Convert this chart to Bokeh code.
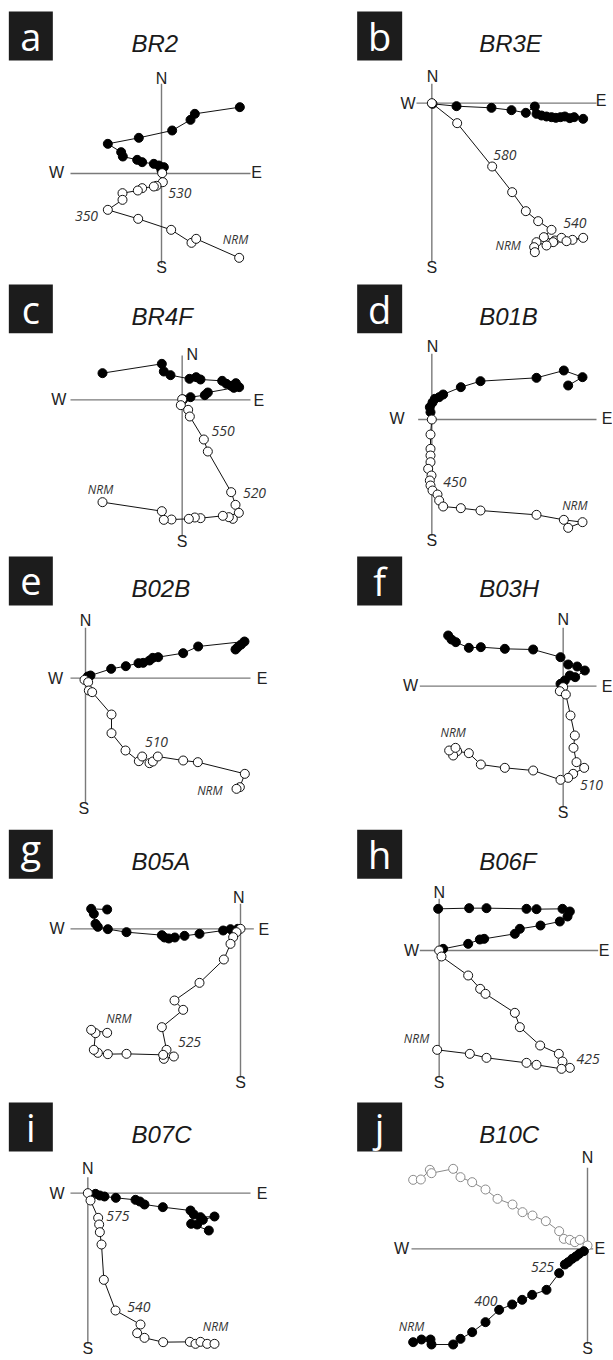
from bokeh.plotting import figure
from bokeh.layouts import column, row
from bokeh.models import Range1d
from bokeh.core.properties import value
from bokeh.embed import file_html
from bokeh.resources import INLINE

# ------------------------------------------------------------------
# DATA  (arbitrary magnetisation units, origin at 0,0; x = East, y = North / Up)
# "fill" = solid symbols, "open" = open symbols
# ------------------------------------------------------------------
panel_letters = ["a", "b", "c", "d", "e", "f", "g", "h", "i", "j"]
sample_names = ["BR2", "BR3E", "BR4F", "B01B", "B02B", "B03H", "B05A", "B06F", "B07C", "B10C"]

a_fill_x = [235, 100, 87, 32, -68, -161, -121, -116, -73, -58, -23, -8, 7, 0]
a_fill_y = [199, 179, 161, 129, 107, 89, 64, 51, 41, 34, 29, 24, 19, 9]
a_open_x = [2, 4, -15, -23, -58, -71, -117, -117, -161, -70, 29, 90, 104, 233]
a_open_y = [1, -26, -37, -39, -44, -51, -59, -79, -109, -136, -169, -208, -196, -253]
a_temps = ["530", "350", "NRM"]

b_fill_x = [2, 74, 179, 239, 282, 309, 314, 329, 344, 359, 372, 386, 399, 414, 427, 454]
b_fill_y = [-2, -9, -14, -21, -29, -10, -32, -37, -40, -42, -44, -42, -40, -45, -42, -47]
b_open_x = [0, 76, 181, 241, 282, 319, 359, 336, 369, 389, 422, 454, 404, 364, 344, 314, 307, 309]
b_open_y = [0, -60, -190, -267, -324, -354, -380, -402, -412, -404, -410, -404, -414, -417, -427, -417, -432, -447]
b_temps = ["580", "540", "NRM"]

c_fill_x = [-239, -61, -55, -35, 22, 42, 55, 120, 133, 147, 161, 171, 155, 77, 68, 25, 3]
c_fill_y = [80, 108, 85, 74, 63, 68, 61, 57, 48, 42, 50, 38, 36, 22, 14, 8, 1]
c_open_x = [0, -4, 18, 23, 65, 77, 147, 160, 170, 152, 140, 122, 55, 38, 20, -32, -55, -61, -239]
c_open_y = [2, -16, -30, -50, -119, -155, -277, -315, -339, -357, -352, -348, -355, -353, -357, -359, -360, -334, -307]
c_temps = ["550", "520", "NRM"]

d_fill_x = [-4, -6, 2, 9, 22, 34, 87, 146, 314, 396, 452, 409]
d_fill_y = [22, 37, 51, 62, 67, 75, 97, 115, 125, 147, 127, 102]
d_open_x = [0, -4, -4, -4, -4, -11, -1, -6, -4, 2, 17, 22, 34, 87, 146, 314, 396, 452, 409]
d_open_y = [0, -45, -88, -108, -128, -148, -168, -183, -198, -213, -225, -243, -261, -266, -273, -286, -301, -308, -325]
d_temps = ["450", "NRM"]

e_fill_x = [7, 15, 77, 121, 159, 173, 192, 202, 218, 293, 338, 477, 467, 457, 450]
e_fill_y = [5, 8, 28, 36, 45, 46, 53, 61, 63, 75, 95, 110, 101, 93, 86]
e_open_x = [-3, 8, 10, 20, 78, 78, 120, 160, 170, 192, 202, 217, 293, 337, 478, 463, 453]
e_open_y = [-5, -12, -37, -42, -109, -165, -217, -249, -235, -255, -250, -235, -247, -252, -287, -327, -332]
e_temps = ["510", "NRM"]

f_fill_x = [-345, -335, -322, -283, -247, -175, -90, -8, 15, 42, 65, 36, 20, 5, -8]
f_fill_y = [152, 140, 132, 115, 117, 112, 110, 87, 65, 59, 47, 27, 32, 17, 7]
f_open_x = [0, -10, 8, 22, 35, 31, 40, 63, 30, 15, -8, -90, -175, -247, -283, -318, -330, -342, -323]
f_open_y = [-3, -15, -25, -88, -148, -185, -228, -245, -263, -275, -281, -253, -245, -235, -201, -195, -208, -193, -185]
f_temps = ["NRM", "510"]

g_fill_x = [-400, -448, -440, -435, -428, -398, -342, -236, -228, -215, -197, -168, -123, -52, -30, -8]
g_fill_y = [58, 60, 45, 15, 6, -1, -10, -19, -26, -29, -26, -21, -15, -5, -1, 0]
g_open_x = [0, -12, -22, -30, -50, -123, -198, -172, -236, -222, -200, -230, -232, -342, -398, -428, -440, -435, -448, -400]
g_open_y = [0, -10, -25, -45, -92, -162, -215, -243, -295, -363, -383, -390, -378, -375, -376, -372, -363, -313, -303, -312]
g_temps = ["NRM", "525"]

h_fill_x = [-3, 90, 142, 262, 292, 370, 392, 385, 362, 304, 242, 227, 135, 122, 87, 12]
h_fill_y = [125, 127, 127, 125, 124, 125, 117, 102, 87, 75, 65, 50, 35, 33, 20, 5]
h_open_x = [0, 7, 87, 123, 139, 227, 242, 303, 359, 370, 392, 367, 292, 262, 142, 92, -6]
h_open_y = [0, -18, -75, -115, -130, -187, -230, -285, -310, -333, -352, -355, -343, -337, -322, -310, -298]
h_temps = ["NRM", "425"]

i_fill_x = [23, 36, 50, 84, 143, 156, 170, 225, 308, 318, 338, 380, 345, 328, 310, 363]
i_fill_y = [-2, -7, -10, -14, -20, -25, -34, -42, -52, -64, -72, -70, -80, -94, -92, -112]
i_open_x = [0, 8, 31, 34, 36, 41, 48, 83, 158, 148, 170, 226, 306, 323, 338, 358, 380]
i_open_y = [0, -22, -74, -94, -117, -154, -260, -352, -394, -420, -434, -447, -446, -452, -446, -452, -452]
i_temps = ["575", "540", "NRM"]

j_open_x = [-523, -500, -473, -468, -403, -381, -346, -306, -270, -225, -195, -165, -125, -85, -71, -53, -38, -23, 0]
j_open_y = [207, 208, 237, 227, 240, 215, 200, 178, 150, 133, 110, 100, 83, 53, 30, 27, 20, 27, 10]
j_fill_x = [-523, -498, -471, -468, -403, -381, -346, -306, -265, -226, -196, -166, -123, -85, -68, -58, -46, -35, -25, -11]
j_fill_y = [-280, -272, -272, -287, -287, -270, -250, -220, -183, -167, -153, -138, -123, -73, -47, -40, -30, -23, -15, -7]
j_temps = ["NRM", "400", "525"]

DATA = {
    "a": (a_fill_x, a_fill_y, a_open_x, a_open_y, a_temps),
    "b": (b_fill_x, b_fill_y, b_open_x, b_open_y, b_temps),
    "c": (c_fill_x, c_fill_y, c_open_x, c_open_y, c_temps),
    "d": (d_fill_x, d_fill_y, d_open_x, d_open_y, d_temps),
    "e": (e_fill_x, e_fill_y, e_open_x, e_open_y, e_temps),
    "f": (f_fill_x, f_fill_y, f_open_x, f_open_y, f_temps),
    "g": (g_fill_x, g_fill_y, g_open_x, g_open_y, g_temps),
    "h": (h_fill_x, h_fill_y, h_open_x, h_open_y, h_temps),
    "i": (i_fill_x, i_fill_y, i_open_x, i_open_y, i_temps),
    "j": (j_fill_x, j_fill_y, j_open_x, j_open_y, j_temps),
}

# ------------------------------------------------------------------
# LAYOUT (positions in a 3x "sketch" grid of each panel cell)
# ------------------------------------------------------------------
COL_LEFT = [0, 306]
COL_W = [306, 306]
ROW_TOP = [0, 280, 552, 822, 1095]
ROW_H = [280, 272, 270, 273, 263]

LAYOUT = {
    "a": dict(col=0, row=0, cell=(0, 0), origin=(483, 519), box=(25, 33, 157, 180),
              v=(250, 790), hz=(210, 750), N=(483, 235), S=(483, 800), W=(168, 517), E=(768, 517),
              tpos=[(538, 577), (258, 645), (705, 718)]),
    "b": dict(col=1, row=0, cell=(306, 0), origin=(376, 308), box=(152, 33, 287, 180),
              v=(250, 785), hz=(330, 870), N=(378, 228), S=(376, 800), W=(305, 308), E=(884, 300),
              tpos=[(595, 462), (805, 668), (605, 735)]),
    "c": dict(col=0, row=1, cell=(0, 270), origin=(545, 388), box=(25, 42, 157, 188),
              v=(255, 795), hz=(210, 750), N=(575, 252), S=(545, 812), W=(175, 388), E=(775, 390),
              tpos=[(668, 482), (762, 668), (300, 657)]),
    "d": dict(col=1, row=1, cell=(306, 270), origin=(376, 447), box=(152, 42, 287, 188),
              v=(250, 795), hz=(335, 870), N=(378, 228), S=(376, 810), W=(272, 445), E=(902, 445),
              tpos=[(445, 635), (805, 705)]),
    "e": dict(col=0, row=2, cell=(0, 540), origin=(255, 413), box=(25, 48, 157, 195),
              v=(262, 790), hz=(210, 750), N=(255, 240), S=(250, 805), W=(165, 413), E=(785, 415),
              tpos=[(468, 605), (628, 750)]),
    "f": dict(col=1, row=2, cell=(306, 540), origin=(770, 437), box=(152, 48, 287, 195),
              v=(262, 800), hz=(340, 870), N=(770, 237), S=(770, 815), W=(312, 435), E=(902, 437),
              tpos=[(440, 575), (855, 733)]),
    "g": dict(col=0, row=3, cell=(0, 810), origin=(720, 355), box=(25, 58, 157, 205),
              v=(280, 800), hz=(210, 760), N=(715, 260), S=(720, 815), W=(170, 355), E=(790, 358),
              tpos=[(355, 625), (567, 693)]),
    "h": dict(col=1, row=3, cell=(306, 810), origin=(398, 420), box=(152, 58, 287, 205),
              v=(265, 800), hz=(340, 875), N=(398, 245), S=(398, 815), W=(315, 420), E=(893, 420),
              tpos=[(330, 685), (845, 745)]),
    "i": dict(col=0, row=4, cell=(0, 1080), origin=(262, 338), box=(25, 66, 157, 213),
              v=(290, 790), hz=(210, 750), N=(262, 265), S=(262, 805), W=(170, 340), E=(785, 340),
              tpos=[(352, 405), (415, 678), (645, 738)]),
    "j": dict(col=1, row=4, cell=(306, 1080), origin=(843, 505), box=(152, 66, 287, 213),
              v=(262, 790), hz=(315, 860), N=(843, 232), S=(843, 805), W=(285, 505), E=(880, 505),
              tpos=[(315, 738), (538, 660), (708, 558)]),
}

TITLE_FONT = value("Liberation Sans")
LETTER_FONT = value("Open Sans")
LABEL_FONT = value("Open Sans")


def make_panel(idx):
    key = panel_letters[idx]
    L = LAYOUT[key]
    fx, fy, ox_, oy_, temps = DATA[key]
    ozx, ozy = L["origin"]

    def zd(zx, zy):
        return zx - ozx, ozy - zy

    cx, cy = L["cell"]
    left, top = COL_LEFT[L["col"]], ROW_TOP[L["row"]]
    W, H = COL_W[L["col"]], ROW_H[L["row"]]
    prx = cx + ozx / 3.0 - left
    pry = cy + ozy / 3.0 - top

    p = figure(width=W, height=H,
               x_range=Range1d(-prx * 3, (W - prx) * 3),
               y_range=Range1d((pry - H) * 3, pry * 3),
               x_axis_type=None, y_axis_type=None,
               output_backend="svg", toolbar_location=None,
               min_border=0, outline_line_color=None)
    p.grid.visible = False

    # letter box
    bx0, by0, bx1, by1 = L["box"]
    l0, t0 = zd(bx0, by0)
    r0, b0 = zd(bx1, by1)
    p.quad(left=[l0], right=[r0], top=[t0], bottom=[b0],
           fill_color="#1c1c1c", line_color=None)
    mid = by0 + (54 if key == "g" else 73)
    lx, ly = zd((bx0 + bx1) / 2.0, mid)
    p.text(x=[lx], y=[ly], text=[key], text_font=LETTER_FONT,
           text_font_size="38px", text_color="white",
           text_align="center", text_baseline="middle")

    # title
    tx, ty = zd(393 if L["col"] == 0 else 518, by0 + 95)
    p.text(x=[tx], y=[ty], text=[sample_names[idx]], text_font=TITLE_FONT,
           text_font_size="24px", text_font_style="italic", text_color="#1a1a1a",
           text_align="left", text_baseline="middle")

    # axes cross
    vy0 = zd(ozx, L["v"][0])[1]
    vy1 = zd(ozx, L["v"][1])[1]
    hx0 = zd(L["hz"][0], ozy)[0]
    hx1 = zd(L["hz"][1], ozy)[0]
    p.segment(x0=[0, hx0], y0=[vy0, 0], x1=[0, hx1], y1=[vy1, 0],
              line_color="#7a7a7a", line_width=1.4)
    for lab in ["N", "S", "W", "E"]:
        qx, qy = zd(*L[lab])
        p.text(x=[qx], y=[qy], text=[lab], text_font=TITLE_FONT,
               text_font_size="16px", text_color="#222222",
               text_align="center", text_baseline="middle")

    open_col = "#8a8a8a" if key == "j" else "#111111"
    p.line(fx, fy, line_color="#111111", line_width=1.0)
    p.line(ox_, oy_, line_color=open_col, line_width=1.0)
    if key == "j":
        p.scatter(ox_, oy_, size=9, marker="circle", fill_color="white",
                  line_color=open_col, line_width=1.0)
        p.scatter(fx, fy, size=9, marker="circle", fill_color="black",
                  line_color="black")
    else:
        p.scatter(fx, fy, size=9, marker="circle", fill_color="black",
                  line_color="black")
        p.scatter(ox_, oy_, size=9, marker="circle", fill_color="white",
                  line_color=open_col, line_width=1.0)

    # step labels
    for t, (zx, zy) in zip(temps, L["tpos"]):
        qx, qy = zd(zx, zy)
        p.text(x=[qx], y=[qy], text=[t], text_font=LABEL_FONT,
               text_font_size="12px" if t == "NRM" else "14px",
               text_font_style="italic", text_color="#333333",
               text_align="center", text_baseline="middle")
    return p


panels = [make_panel(k) for k in range(10)]
rows = [row(panels[2 * r], panels[2 * r + 1]) for r in range(5)]
layout = column(*rows)

open("out.html", "w").write(file_html(layout, INLINE))
